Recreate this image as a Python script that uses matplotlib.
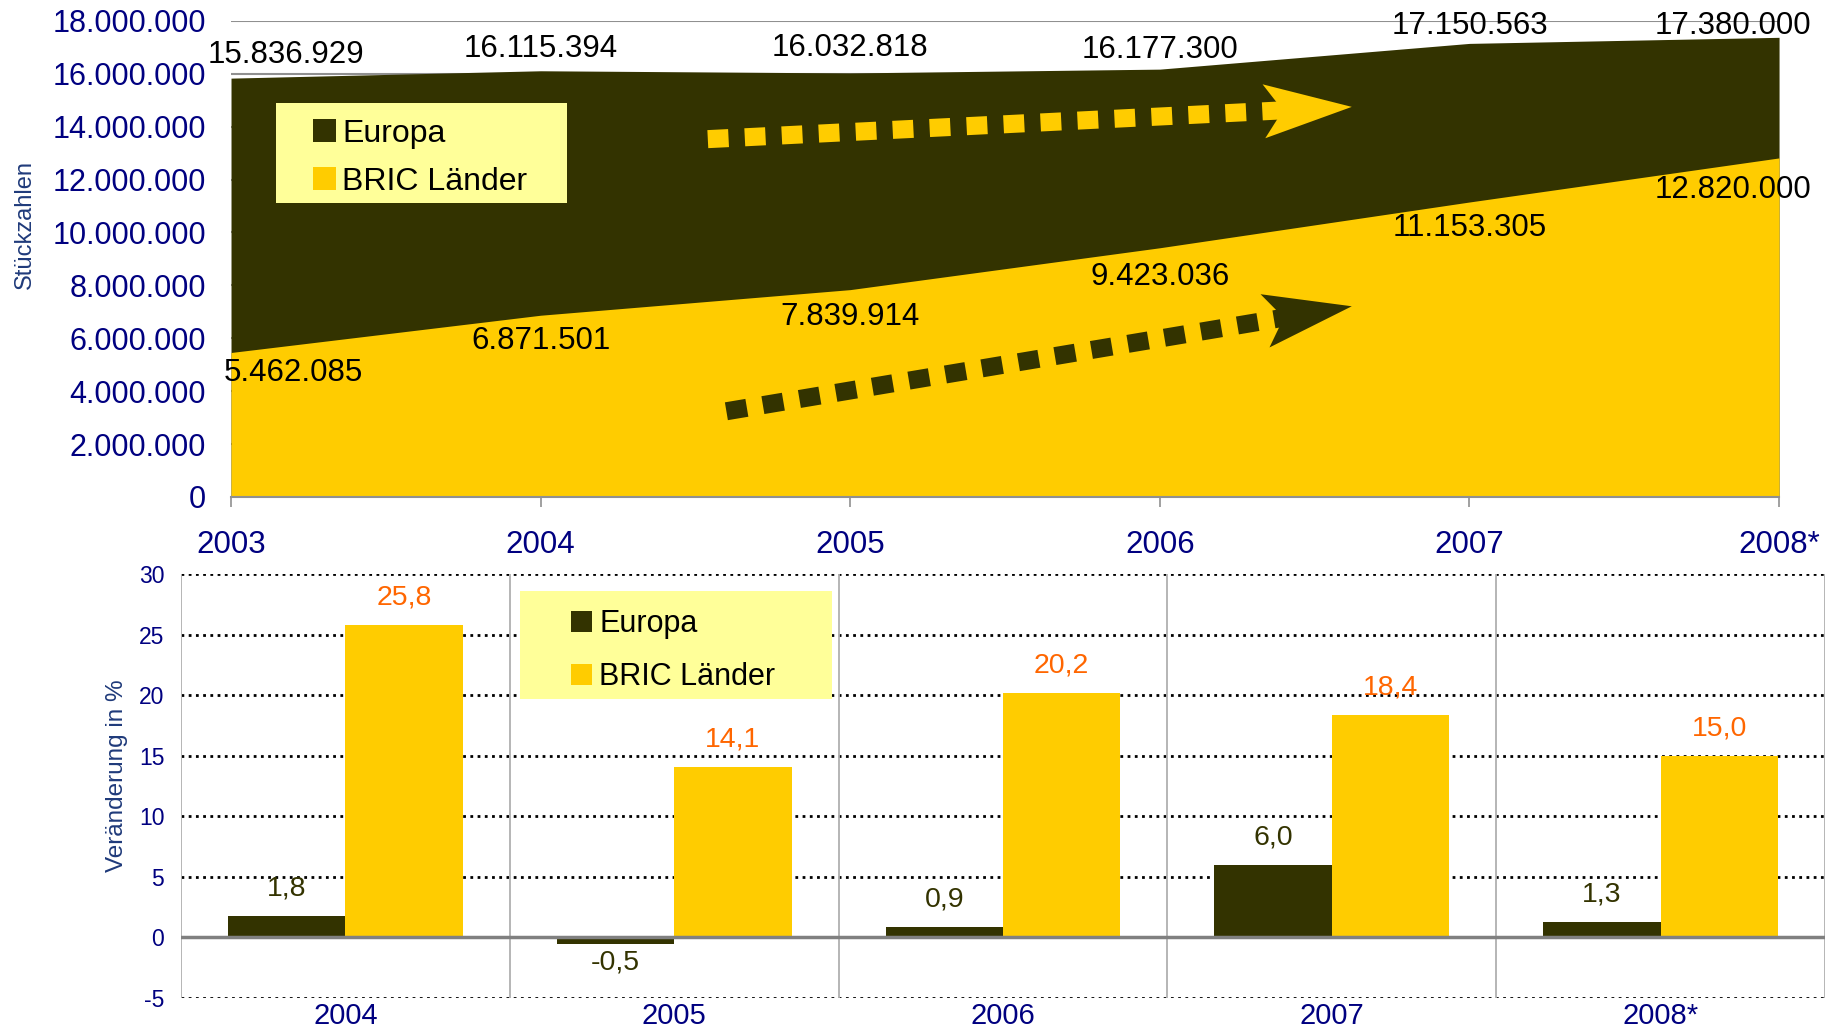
import numpy as np
import matplotlib
matplotlib.use('Agg')
import matplotlib.pyplot as plt
from matplotlib.patches import Polygon, Rectangle
from matplotlib.ticker import FuncFormatter

plt.rcParams['font.family'] = ['Liberation Sans', 'DejaVu Sans']
plt.rcParams['axes.unicode_minus'] = False

# ---- data ---- #
years = ['2003', '2004', '2005', '2006', '2007', '2008*']
europa_units = [15836929, 16115394, 16032818, 16177300, 17150563, 17380000]
bric_units = [5462085, 6871501, 7839914, 9423036, 11153305, 12820000]

change_years = ['2004', '2005', '2006', '2007', '2008*']
europa_change = [1.8, -0.5, 0.9, 6.0, 1.3]
bric_change = [25.8, 14.1, 20.2, 18.4, 15.0]

# decorative trend arrows (start, tip) in data coords of the top chart
arrow_europa = ((1.54, 13.53e6), (3.62, 14.75e6))
arrow_bric = ((1.60, 3.24e6), (3.62, 7.21e6))

# label offsets (pixels) for the top chart value labels
europa_lbl_dy = [23, 22, 25, 19, 17, 11]
bric_lbl_dy = [-21, -26, -27, -29, -26, -32]

DARK = '#333300'
YELLOW = '#FFCC00'
LEGEND_BG = '#FFFF99'
NAVY = '#000080'
LABEL_BLUE = '#1F3A7A'
ORANGE = '#FF6600'


def de_num(v):
    return f"{v:,.0f}".replace(',', '.')


def de_dec(v):
    return f"{v:.1f}".replace('.', ',')


def dash_arrow(ax, p0, p1, color):
    # dashed thick shaft + notched arrow head, built in pixel space
    tr = ax.transData
    a = tr.transform(p0)
    b = tr.transform(p1)
    d = b - a
    u = d / np.hypot(*d)
    n = np.array([-u[1], u[0]])
    head_len, half_w, notch = 88, 27, 19
    base = b - u * head_len
    shaft_end = base + u * (notch + 4)
    inv = tr.inverted()
    s0, s1 = inv.transform([a, shaft_end])
    ax.plot([s0[0], s1[0]], [s0[1], s1[1]], color=color, lw=13,
            ls=(0, (1.15, 0.9)), dash_capstyle='butt', zorder=4)
    pts = inv.transform([b, base + n * half_w, base + u * notch, base - n * half_w])
    ax.add_patch(Polygon(pts, closed=True, facecolor=color, edgecolor='none', zorder=4))


fig = plt.figure(figsize=(18.32, 10.31), dpi=100)

# ---- top: area chart ---- #
ax1 = fig.add_axes([0.1261, 0.5180, 0.8450, 0.4617])
x = np.arange(len(years))
ax1.fill_between(x, 0, europa_units, color=DARK, lw=0, zorder=2, label='Europa')
ax1.fill_between(x, 0, bric_units, color=YELLOW, lw=0, zorder=3, label='BRIC Länder')
ax1.set_xlim(0, len(years) - 1)
ax1.set_ylim(0, 18e6)
ax1.set_yticks(np.arange(0, 18e6 + 1, 2e6))
ax1.yaxis.set_major_formatter(FuncFormatter(lambda v, p: de_num(v)))
ax1.set_xticks(x)
ax1.set_xticklabels(years)
ax1.grid(axis='y', color='#909090', lw=1.5, zorder=1)
ax1.set_axisbelow(True)
for s in ['left', 'right', 'top']:
    ax1.spines[s].set_visible(False)
ax1.spines['bottom'].set_color('#909090')
ax1.spines['bottom'].set_linewidth(1.5)
ax1.spines['bottom'].set_zorder(5)
ax1.tick_params(axis='y', length=0, pad=18, labelsize=22, labelcolor=NAVY)
ax1.tick_params(axis='x', length=7, width=1.2, color='#909090', pad=17,
                labelsize=22.5, labelcolor=NAVY)
ax1.set_ylabel('Stückzahlen', fontsize=17, color=LABEL_BLUE)
ax1.yaxis.set_label_coords(-0.126, 0.573)

n = len(years)
for i in range(n):
    dx = 55 if i == 0 else (-46 if i == n - 1 else 0)
    ax1.annotate(de_num(europa_units[i]), (i, europa_units[i]), xytext=(dx, europa_lbl_dy[i]),
                 textcoords='offset pixels', ha='center', va='center',
                 fontsize=22.5, color='black', zorder=6, annotation_clip=False)
    dx = 62 if i == 0 else (-46 if i == n - 1 else 0)
    ax1.annotate(de_num(bric_units[i]), (i, bric_units[i]), xytext=(dx, bric_lbl_dy[i]),
                 textcoords='offset pixels', ha='center', va='center',
                 fontsize=22.5, color='black', zorder=6, annotation_clip=False)

dash_arrow(ax1, *arrow_europa, YELLOW)
dash_arrow(ax1, *arrow_bric, DARK)

ax1.add_patch(Rectangle((0.0289, 0.6173), 0.188, 0.2103, transform=ax1.transAxes,
                        facecolor=LEGEND_BG, edgecolor='none', zorder=5))
leg1 = ax1.legend(loc='upper left', bbox_to_anchor=(0.053, 0.795), frameon=False,
                  fontsize=23, handlelength=0.72, handleheight=0.72, handletextpad=0.2,
                  labelspacing=0.58, borderpad=0, borderaxespad=0)
leg1.set_zorder(6)

# ---- bottom: bar chart ---- #
ax2 = fig.add_axes([0.0988, 0.0320, 0.8974, 0.4112])
xc = np.arange(len(change_years))
w = 0.357
ax2.bar(xc - w / 2, europa_change, w, color=DARK, zorder=3, label='Europa')
ax2.bar(xc + w / 2, bric_change, w, color=YELLOW, zorder=3, label='BRIC Länder')
ax2.set_xlim(-0.5, len(change_years) - 0.5)
ax2.set_ylim(-5, 30)
ax2.set_yticks(np.arange(-5, 31, 5))
ax2.set_xticks(xc)
ax2.set_xticklabels(change_years)
for s in ax2.spines.values():
    s.set_visible(False)
for yv in np.arange(-5, 31, 5):
    if yv != 0:
        ax2.axhline(yv, color='black', lw=2, ls=(0, (1, 1.6)), zorder=1)
ax2.axhline(0, color='#808080', lw=2.5, zorder=4)
for b in np.arange(-0.5, len(change_years), 1.0):
    ax2.vlines(b, -5, 30, color='#B0B0B0', lw=1.3, zorder=2)
ax2.tick_params(axis='y', length=0, pad=12, labelsize=16.5, labelcolor=NAVY)
ax2.tick_params(axis='x', length=0, pad=3, labelsize=21, labelcolor=NAVY)
ax2.set_ylabel('Veränderung in %', fontsize=17.5, color=LABEL_BLUE)
ax2.yaxis.set_label_coords(-0.032, 0.524)

for i in range(len(change_years)):
    v = europa_change[i]
    ax2.annotate(de_dec(v), (xc[i] - w / 2, v), xytext=(0, 27 if v >= 0 else -19),
                 textcoords='offset pixels', ha='center', va='center',
                 fontsize=20.5, color=DARK, zorder=6)
    v = bric_change[i]
    ax2.annotate(de_dec(v), (xc[i] + w / 2, v), xytext=(0, 27),
                 textcoords='offset pixels', ha='center', va='center',
                 fontsize=20.5, color=ORANGE, zorder=6)

ax2.add_patch(Rectangle((0.2062, 0.705), 0.1898, 0.255, transform=ax2.transAxes,
                        facecolor=LEGEND_BG, edgecolor='none', zorder=5))
leg2 = ax2.legend(loc='upper left', bbox_to_anchor=(0.2372, 0.918), frameon=False,
                  fontsize=22, handlelength=0.68, handleheight=0.68, handletextpad=0.25,
                  labelspacing=0.75, borderpad=0, borderaxespad=0)
leg2.set_zorder(6)

fig.savefig('out.png', dpi=100)
